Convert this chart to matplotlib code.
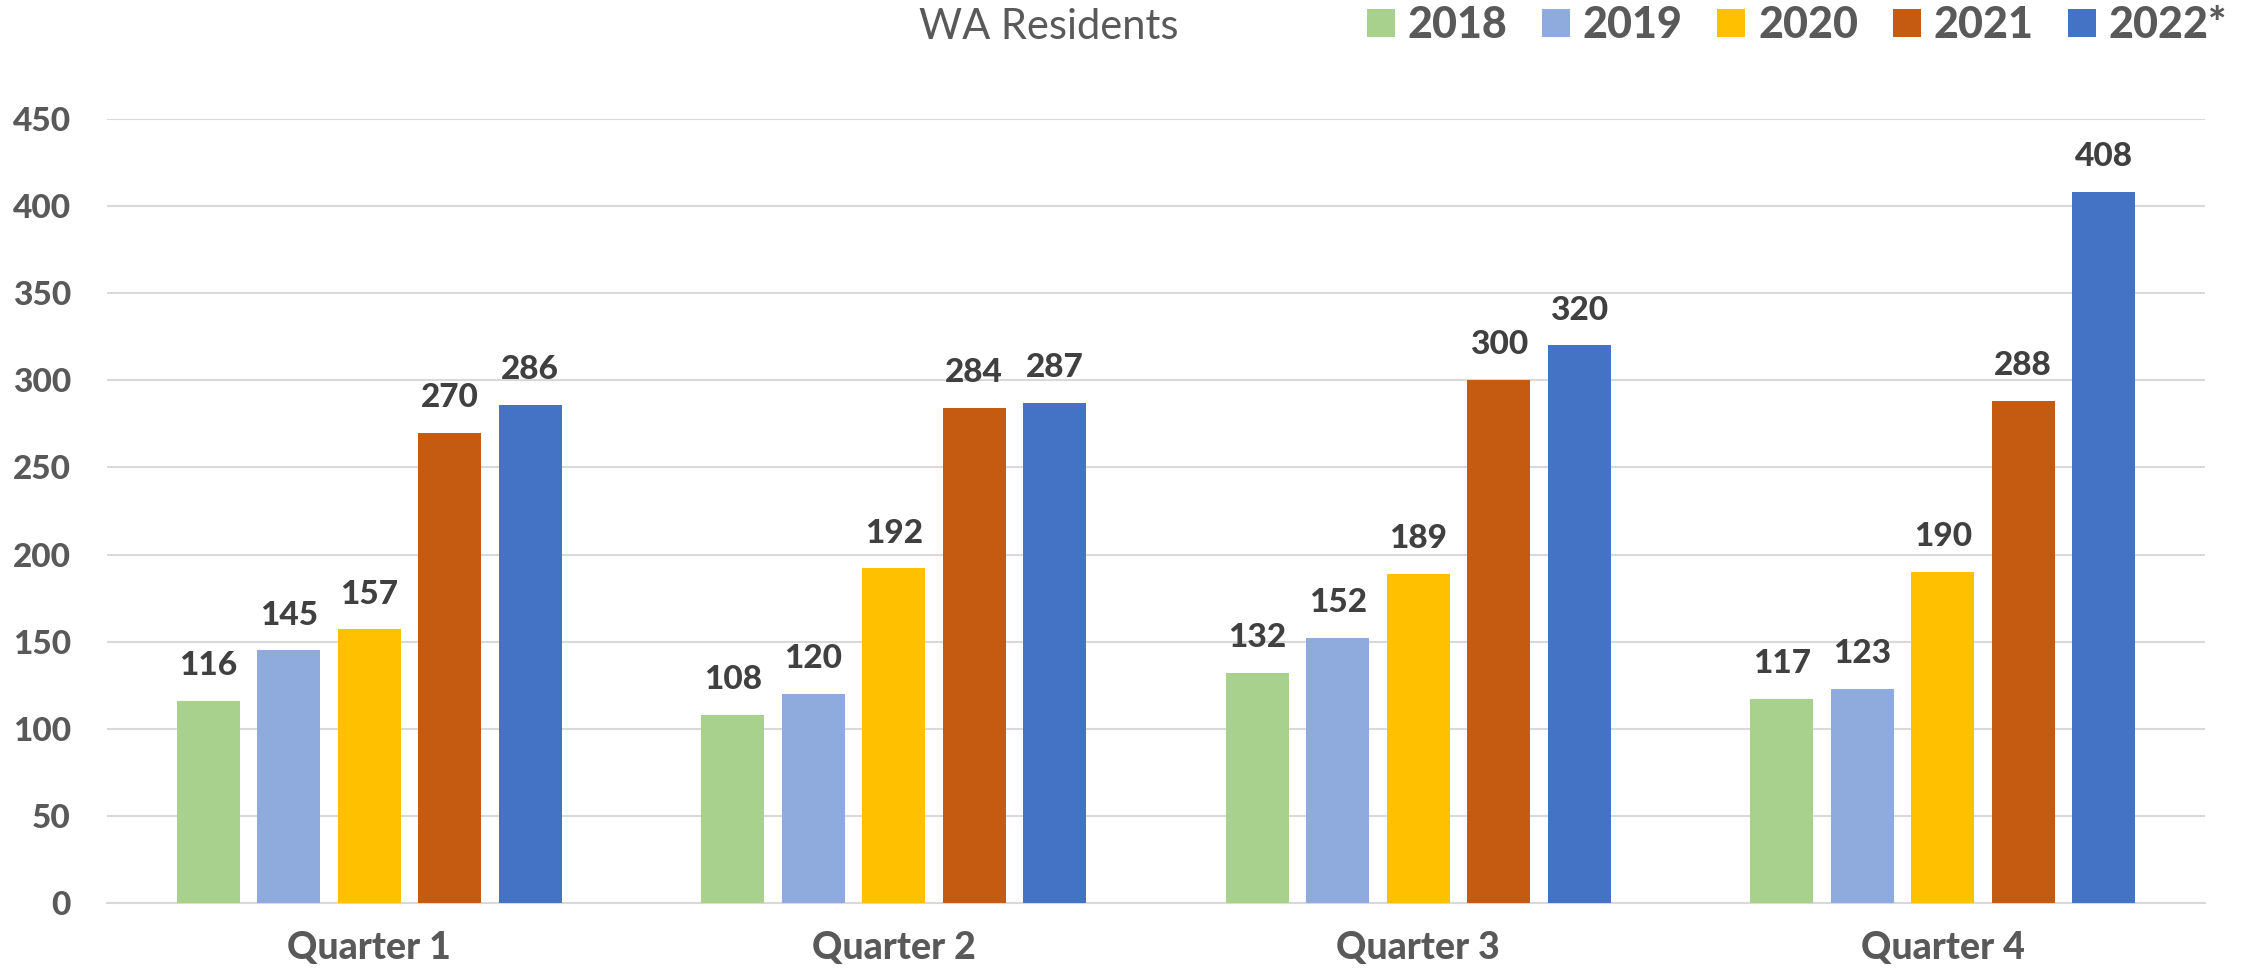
import numpy as np
import matplotlib
matplotlib.use("Agg")
import matplotlib.pyplot as plt
from matplotlib.patches import Patch

quarters = ["Quarter 1", "Quarter 2", "Quarter 3", "Quarter 4"]
years = ["2018", "2019", "2020", "2021", "2022*"]
v2018 = [116, 108, 132, 117]
v2019 = [145, 120, 152, 123]
v2020 = [157, 192, 189, 190]
v2021 = [270, 284, 300, 288]
v2022 = [286, 287, 320, 408]
series = [v2018, v2019, v2020, v2021, v2022]
colors = ["#A9D18E", "#8FAADC", "#FFC000", "#C55A11", "#4472C4"]

plt.rcParams['font.family'] = ['Lato', 'DejaVu Sans']
BOLD = 'black'

W, H = 2261, 977
fig = plt.figure(figsize=(W / 100, H / 100), dpi=100)
ax = fig.add_axes([107 / W, 1 - 903 / H, (2205 - 107) / W, (903 - 119) / H])

x = np.arange(len(quarters))
pitch = 0.1534
width = 0.12
for j, vals in enumerate(series):
    bars = ax.bar(x + (j - 2) * pitch, vals, width, color=colors[j], zorder=3)
    ax.bar_label(bars, padding=15, fontsize=24, fontweight=BOLD, color='#404040')

ax.set_xlim(-0.5, 3.5)
ax.set_ylim(0, 450)
ax.set_yticks(range(0, 451, 50))
ax.yaxis.grid(True, color='#D9D9D9', linewidth=1.5, zorder=0)
ax.set_axisbelow(True)
for s in ['top', 'right', 'left']:
    ax.spines[s].set_visible(False)
ax.spines['bottom'].set_color('#D9D9D9')
ax.spines['bottom'].set_linewidth(1.5)
ax.tick_params(axis='both', length=0, colors='#595959')
ax.tick_params(axis='y', pad=26)
ax.tick_params(axis='x', pad=20)
ax.set_xticks(x)
ax.set_xticklabels(quarters, fontsize=27, fontweight=BOLD, color='#595959')
for lbl in ax.get_yticklabels():
    lbl.set_fontsize(24)
    lbl.set_fontweight(BOLD)

fig.text(919 / W, 1 - 27 / H, "WA Residents", fontsize=30, color='#595959',
         ha='left', va='center')

handles = [Patch(facecolor=c) for c in colors]
leg = fig.legend(handles, years, loc='center left', bbox_to_anchor=(1367 / W, 1 - 25 / H),
                 ncol=5, frameon=False, borderpad=0, borderaxespad=0,
                 handlelength=0.65, handleheight=0.63, handletextpad=0.3,
                 columnspacing=0.8, prop={'size': 31, 'weight': BOLD})
for t in leg.get_texts():
    t.set_color('#595959')

fig.savefig("out.png", dpi=100)
